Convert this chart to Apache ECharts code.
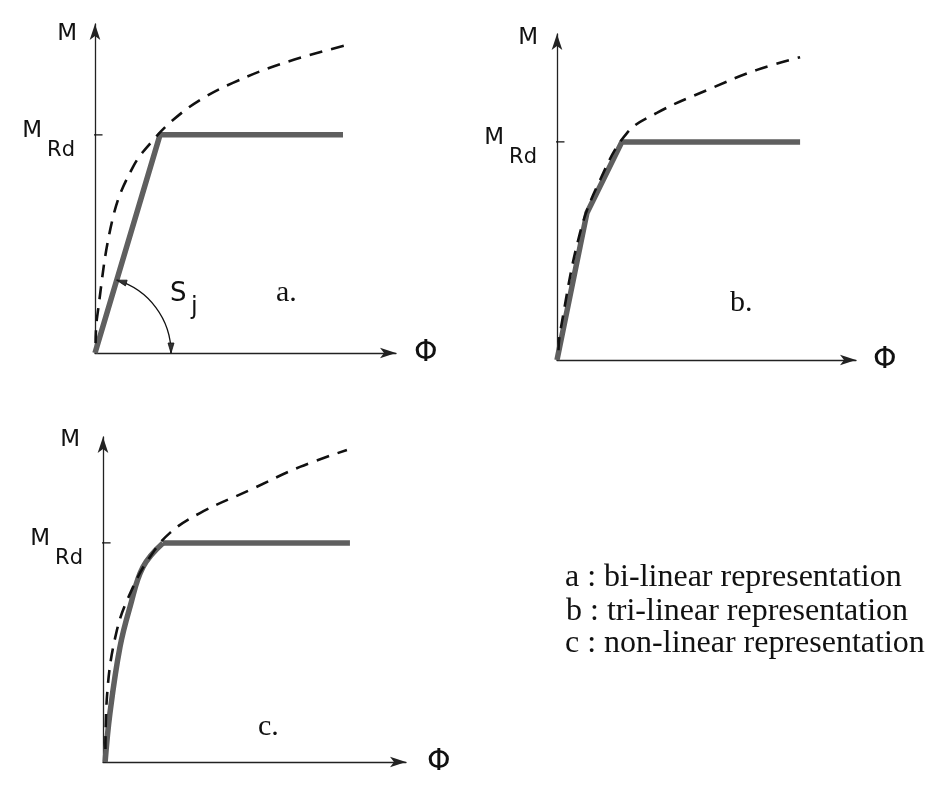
<!DOCTYPE html>
<html>
<head>
<meta charset="utf-8">
<script src="https://cdn.jsdelivr.net/npm/echarts@6/dist/echarts.min.js"></script>
<style>
html, body { margin: 0; background: #fff; }
#main { width: 945px; height: 798px; }
</style>
</head>
<body>
<div id="main"></div>
<script>
// design moment resistance for each panel (M axis units)
var mRd = [6.63, 6.69, 6.74];

// idealised curves (phi, M)
var bilinear = [[0, 0], [2.16, 6.63], [8.24, 6.63]];
var trilinear = [[0, 0], [1.0, 4.51], [2.17, 6.69], [8.13, 6.69]];
var nonlinearRise = [[0.07, 0], [0.23, 1.51], [0.56, 3.54], [0.89, 4.77], [1.32, 6.0], [1.98, 6.74]];
var nonlinearFlat = [[1.98, 6.74], [8.15, 6.74]];

// actual behaviour (dashed)
var actualA = [[0.02, 0.3], [0.07, 1.09], [0.6, 4.13], [1.26, 5.65], [1.93, 6.47], [2.59, 7.08], [3.49, 7.69], [4.58, 8.21], [6.25, 8.81], [8.37, 9.36]];
var actualB = [[0.05, 0.3], [0.1, 0.83], [0.77, 3.9], [1.44, 5.52], [2.34, 6.96], [3.34, 7.58], [5.02, 8.28], [6.69, 8.9], [8.13, 9.29]];
var actualC = [[0.08, 0.4], [0.13, 2.0], [0.46, 4.06], [0.99, 5.38], [1.55, 6.31], [2.21, 7.05], [3.2, 7.66], [4.85, 8.37], [6.5, 9.08], [8.05, 9.6]];

var panelNames = ['a.', 'b.', 'c.'];
var legendLines = ['a : bi-linear representation', 'b : tri-linear representation', 'c : non-linear representation'];

var SANS = '"DejaVu Sans", sans-serif';
var SERIF = '"Liberation Serif", serif';

var chart = echarts.init(document.getElementById('main'));

var grids = [
    {left: 95, top: 24, width: 301, height: 329},
    {left: 557, top: 34, width: 299, height: 326},
    {left: 103, top: 437, width: 303, height: 325}
];
var mGap = [-10, -4, -3];
var mPad = [18, 19, 23];
var phiGap = [18, 17, 21];
var phiPad = [20, 10, 10];

var xAxes = [], yAxes = [];
grids.forEach(function (g, i) {
    xAxes.push({
        gridIndex: i, type: 'value', min: 0, max: 10,
        axisLine: {show: true, symbol: ['none', 'arrow'], symbolSize: [8, 16],
            lineStyle: {color: '#222', width: 1.3}},
        axisTick: {show: false}, axisLabel: {show: false}, splitLine: {show: false},
        name: 'Φ', nameLocation: 'end', nameGap: phiGap[i],
        nameTextStyle: {fontFamily: SANS, fontSize: 30, color: '#111', padding: [phiPad[i], 0, 0, 0]}
    });
    yAxes.push({
        gridIndex: i, type: 'value', min: 0, max: 10,
        axisLine: {show: true, symbol: ['none', 'arrow'], symbolSize: [8, 16],
            lineStyle: {color: '#222', width: 1.3}},
        axisTick: {show: false}, splitLine: {show: false},
        axisLabel: {
            show: true, customValues: [mRd[i]], margin: 20, padding: [11, 0, 0, 0],
            formatter: '{m|M}{s|Rd}',
            rich: {
                m: {fontFamily: SANS, fontSize: 23, color: '#111', verticalAlign: 'top'},
                s: {fontFamily: SANS, fontSize: 21, color: '#111', verticalAlign: 'top', padding: [20, 0, 0, 5]}
            }
        },
        name: 'M', nameLocation: 'end', nameGap: mGap[i],
        nameTextStyle: {fontFamily: SANS, fontSize: 23, color: '#111', align: 'right',
            verticalAlign: 'middle', padding: [0, mPad[i], 0, 0]}
    });
});

function solid(i, data, smooth) {
    return {type: 'line', xAxisIndex: i, yAxisIndex: i, data: data, symbol: 'none',
        smooth: smooth || false, lineStyle: {color: '#5f5f5f', width: 5.5, cap: 'butt', join: 'round'}, z: 3};
}
function dashed(i, data) {
    return {type: 'line', xAxisIndex: i, yAxisIndex: i, data: data, symbol: 'none',
        smooth: 0.4, lineStyle: {color: '#111', width: 2.6, type: [13, 9]}, z: 4};
}
function rdTick(i) {
    return {type: 'line', xAxisIndex: i, yAxisIndex: i, symbol: 'none', clip: false,
        data: [[-0.25, mRd[i]], [0.25, mRd[i]]], lineStyle: {color: '#111', width: 1.2}, z: 5};
}

var series = [
    solid(0, bilinear), dashed(0, actualA), rdTick(0),
    solid(1, trilinear), dashed(1, actualB), rdTick(1),
    solid(2, nonlinearRise, 0.4), solid(2, nonlinearFlat), dashed(2, actualC), rdTick(2)
];

chart.setOption({
    animation: false,
    backgroundColor: '#fff',
    grid: grids,
    xAxis: xAxes,
    yAxis: yAxes,
    series: series
});

// annotation texts + stiffness arc
function txt(x, y, s, font, size) {
    return {type: 'text', x: x, y: y, z: 10,
        style: {text: s, font: size + 'px ' + font, fill: '#111',
            align: 'left', verticalAlign: 'middle', textAlign: 'left', textVerticalAlign: 'middle'}};
}
var gfx = [];
gfx.push(txt(276, 293, panelNames[0], SERIF, 30));
gfx.push(txt(730, 303, panelNames[1], SERIF, 30));
gfx.push(txt(258, 727, panelNames[2], SERIF, 30));
var legendX = [565, 566, 565], legendY = [578, 612, 644];
legendLines.forEach(function (s, k) {
    gfx.push(txt(legendX[k], legendY[k], s, SERIF, 32));
});
gfx.push(txt(170, 294, 'S', SANS, 26));
gfx.push(txt(191, 308, 'j', SANS, 24));

var o = chart.convertToPixel({gridIndex: 0}, [0, 0]);
var p = chart.convertToPixel({gridIndex: 0}, bilinear[1]);
var ang = Math.atan2(p[1] - o[1], p[0] - o[0]);
var r = 76;
gfx.push({type: 'arc', z: 10, shape: {cx: o[0], cy: o[1], r: r, startAngle: ang, endAngle: 0, clockwise: true},
    style: {stroke: '#111', fill: 'none', lineWidth: 1.3}});
function head(theta, sign) {
    var tx = o[0] + r * Math.cos(theta), ty = o[1] + r * Math.sin(theta);
    var dx = -Math.sin(theta) * sign, dy = Math.cos(theta) * sign;
    var L = 10, w = 3;
    var bx = tx - L * dx, by = ty - L * dy;
    var nx = Math.cos(theta), ny = Math.sin(theta);
    return {type: 'polygon', z: 10, shape: {points: [[tx, ty], [bx + w * nx, by + w * ny], [bx - w * nx, by - w * ny]]},
        style: {fill: '#333', stroke: '#111', lineWidth: 0.8}};
}
gfx.push(head(ang, -1));
gfx.push(head(0, 1));

chart.setOption({graphic: gfx});
</script>
</body>
</html>
